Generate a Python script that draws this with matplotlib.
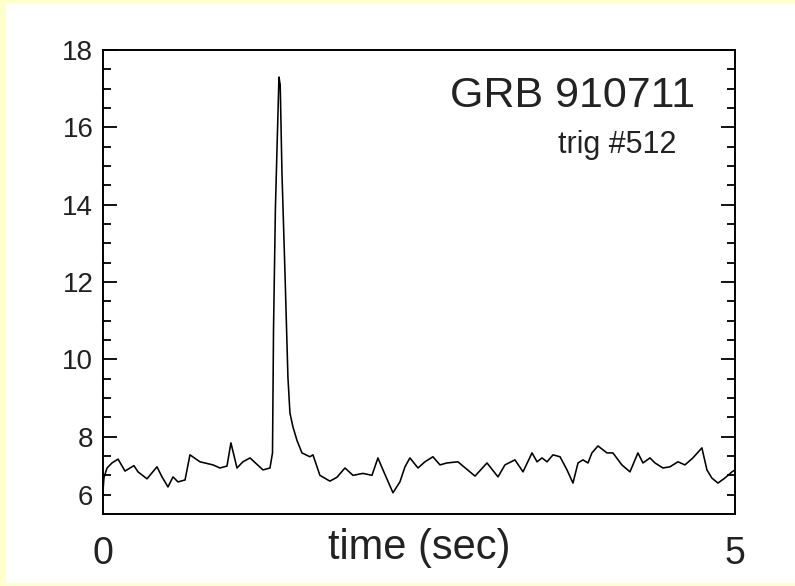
import matplotlib
matplotlib.use('Agg')
import matplotlib.pyplot as plt
from matplotlib.patches import Rectangle
from matplotlib.ticker import FixedLocator, FixedFormatter

plt.rcParams['font.family'] = ['Liberation Sans', 'DejaVu Sans']

# light curve: time (s) and count rate
time_s = [0.000, 0.008, 0.032, 0.071, 0.119, 0.174, 0.214, 0.245, 0.277, 0.348,
          0.427, 0.467, 0.514, 0.554, 0.593, 0.649, 0.688, 0.767, 0.870, 0.925,
          0.981, 1.012, 1.060, 1.107, 1.163, 1.266, 1.321, 1.341, 1.349, 1.364,
          1.392, 1.402, 1.416, 1.440, 1.463, 1.479, 1.503, 1.535, 1.574, 1.637,
          1.661, 1.716, 1.795, 1.851, 1.914, 1.978, 2.057, 2.128, 2.175, 2.215,
          2.294, 2.349, 2.389, 2.428, 2.492, 2.547, 2.610, 2.666, 2.721, 2.808,
          2.943, 3.038, 3.125, 3.180, 3.259, 3.323, 3.394, 3.434, 3.473, 3.513,
          3.560, 3.616, 3.671, 3.718, 3.758, 3.797, 3.837, 3.868, 3.916, 3.987,
          4.034, 4.105, 4.169, 4.232, 4.272, 4.327, 4.367, 4.430, 4.485, 4.549,
          4.604, 4.667, 4.738, 4.778, 4.817, 4.865, 4.920, 4.976, 5.000]
rate = [6.60, 6.95, 7.19, 7.32, 7.42, 7.11, 7.19, 7.25, 7.09, 6.91,
        7.22, 6.96, 6.70, 6.96, 6.83, 6.88, 7.53, 7.35, 7.27, 7.19,
        7.24, 7.84, 7.19, 7.35, 7.45, 7.14, 7.19, 7.58, 10.76, 13.91,
        17.30, 17.10, 14.80, 12.20, 9.54, 8.61, 8.25, 7.90, 7.58, 7.48,
        7.53, 7.00, 6.85, 6.95, 7.19, 7.00, 7.05, 7.00, 7.45, 7.14,
        6.55, 6.83, 7.22, 7.45, 7.19, 7.35, 7.48, 7.27, 7.32, 7.35,
        6.98, 7.32, 6.96, 7.27, 7.40, 7.09, 7.58, 7.35, 7.45, 7.35,
        7.53, 7.48, 7.14, 6.80, 7.32, 7.40, 7.32, 7.58, 7.76, 7.58,
        7.58, 7.27, 7.09, 7.58, 7.32, 7.45, 7.32, 7.19, 7.22, 7.35,
        7.27, 7.45, 7.71, 7.14, 6.93, 6.80, 6.93, 7.09, 7.14]

y_major = [8, 10, 12, 14, 16, 18]
y_minor = [6.5, 7, 7.5, 8.5, 9, 9.5, 10.5, 11, 11.5, 12.5, 13, 13.5,
           14.5, 15, 15.5, 16.5, 17, 17.5]
x_ticks = [0, 5]

W, H = 795, 586
fig = plt.figure(figsize=(W / 100, H / 100), dpi=100, facecolor='#FFFFCC')
fig.patches.append(Rectangle((6 / W, 3 / H), 1 - 6 / W, 1 - 7 / H,
                             transform=fig.transFigure, facecolor='white',
                             edgecolor='none', zorder=-10))

ax = fig.add_axes([103 / W, 1 - 514 / H, 632 / W, 464 / H])
ax.set_zorder(5)
ax.plot(time_s, rate, color='black', lw=1.15)

ax.set_xlim(0, 5)
ax.set_ylim(6, 18)
for sp in ax.spines.values():
    sp.set_linewidth(1.4)

ax.set_xticks(x_ticks)
ax.set_xticklabels([str(v) for v in x_ticks])
ax.tick_params(axis='x', length=0, labelsize=27, pad=16, labelcolor='#222222')

ax.yaxis.set_major_locator(FixedLocator(y_major))
ax.yaxis.set_minor_locator(FixedLocator(y_minor))
# the bottom label sits on the first minor tick in the original
ax.yaxis.set_minor_formatter(FixedFormatter(['6'] + [''] * (len(y_minor) - 1)))
ax.tick_params(axis='y', which='both', direction='in', left=True, right=True,
               labelsize=20, pad=7, labelcolor='#222222', width=1.3)
ax.tick_params(axis='y', which='major', length=10)
ax.tick_params(axis='y', which='minor', length=6)

ax.set_xlabel('time (sec)', fontsize=30, color='#222222', va='center')
ax.xaxis.set_label_coords(0.5, -0.073)

ax.text(0.937, 0.877, 'GRB 910711', transform=ax.transAxes, ha='right',
        va='baseline', fontsize=31, color='#222222')
ax.text(0.908, 0.778, 'trig #512', transform=ax.transAxes, ha='right',
        va='baseline', fontsize=22, color='#222222')

fig.savefig('out.png', dpi=100, facecolor=fig.get_facecolor())
